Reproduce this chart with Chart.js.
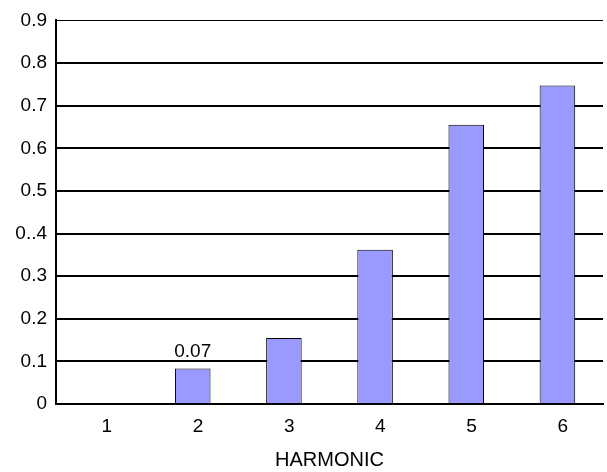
<!DOCTYPE html>
<html>
<head>
<meta charset="utf-8">
<script src="https://cdn.jsdelivr.net/npm/chart.js@4"></script>
<style>
  html, body { margin: 0; padding: 0; background: #fff; }
  #wrap { width: 607px; height: 472px; }
</style>
</head>
<body>
<div id="wrap"><canvas id="harmChart" width="607" height="472"></canvas></div>
<script>
const harmonics = ["1", "2", "3", "4", "5", "6"];
const values = [0, 0.083, 0.155, 0.362, 0.655, 0.747];
const pointLabels = ["", "0.07", "", "", "", ""];
const yTickLabels = ["0", "0.1", "0.2", "0.3", "0..4", "0.5", "0.6", "0.7", "0.8", "0.9"];

const fontFamily = "'Liberation Sans', Arial, sans-serif";

// draws the single value label over bar 2
const valueLabels = {
  id: "valueLabels",
  afterDatasetsDraw(chart) {
    const ctx = chart.ctx;
    const meta = chart.getDatasetMeta(0);
    ctx.save();
    ctx.font = "19px " + fontFamily;
    ctx.fillStyle = "#000";
    ctx.textAlign = "center";
    ctx.textBaseline = "alphabetic";
    meta.data.forEach((bar, i) => {
      if (pointLabels[i]) ctx.fillText(pointLabels[i], bar.x, bar.y - 11.5);
    });
    ctx.restore();
  },
};

new Chart("harmChart", {
  type: "bar",
  data: {
    labels: harmonics,
    datasets: [
      {
        data: values,
        backgroundColor: "#9999ff",
        borderColor: "#000",
        borderWidth: 1,
        barPercentage: 0.39,
        categoryPercentage: 1,
      },
    ],
  },
  options: {
    responsive: false,
    animation: false,
    layout: { padding: { top: 7, right: 4, left: 0, bottom: 0 } },
    plugins: { legend: { display: false }, tooltip: { enabled: false } },
    scales: {
      x: {
        afterFit: (s) => { s.height = 68; },
        grid: {
          offset: true,
          drawTicks: false,
          color: (c) => (c.index === harmonics.length ? "#999" : "rgba(0,0,0,0)"),
          lineWidth: 1,
        },
        border: { color: "#000", width: 2 },
        ticks: {
          color: "#000",
          align: "start",
          font: { size: 19, family: fontFamily },
          padding: 11,
        },
        title: {
          display: true,
          text: "HARMONIC",
          color: "#000",
          font: { size: 20, family: fontFamily },
          padding: { top: 0, bottom: 0 },
        },
      },
      y: {
        min: 0,
        max: 0.9,
        afterFit: (s) => { s.width = 56; },
        grid: {
          drawTicks: false,
          color: "#000",
          lineWidth: (c) => (c.index === 9 ? 1 : 2),
        },
        border: { color: "#000", width: 2 },
        ticks: {
          stepSize: 0.1,
          color: "#000",
          padding: 9,
          font: { size: 19, family: fontFamily },
          callback: (v, i) => yTickLabels[i],
        },
      },
    },
  },
  plugins: [valueLabels],
});
</script>
</body>
</html>
